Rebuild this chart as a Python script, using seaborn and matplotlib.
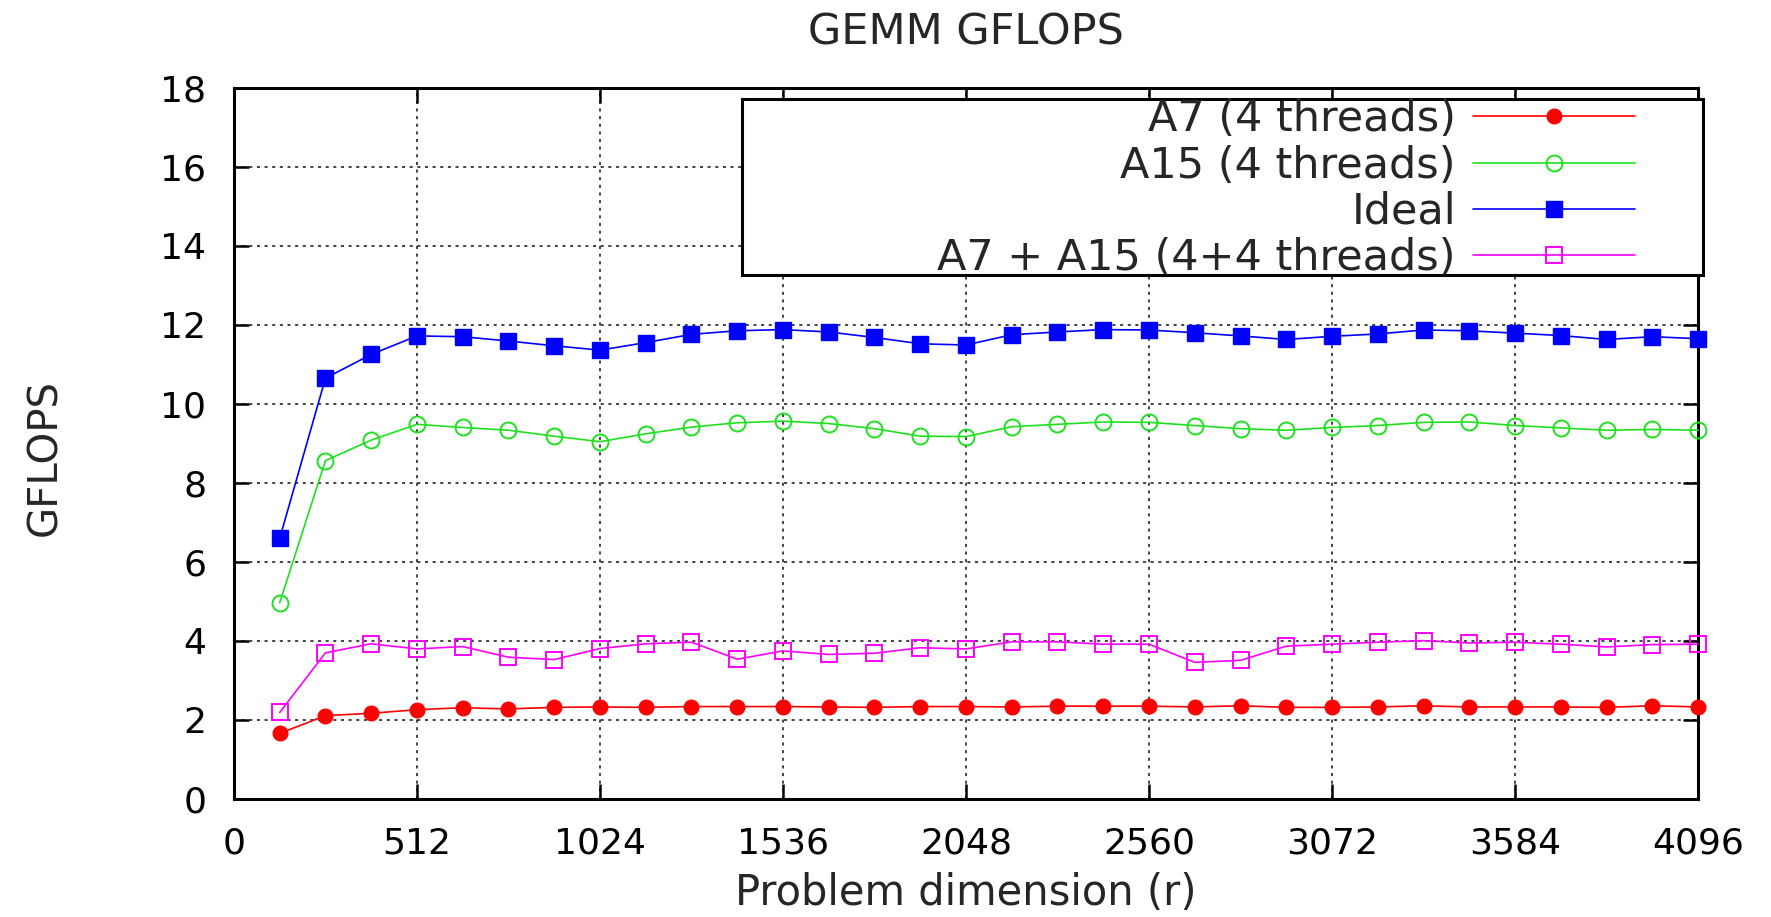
import matplotlib
matplotlib.use("Agg")
import matplotlib.pyplot as plt
from matplotlib.patches import Rectangle
import seaborn as sns

# ---------------- data ----------------
problem_dim = [128, 256, 384, 512, 640, 768, 896, 1024, 1152, 1280, 1408, 1536,
               1664, 1792, 1920, 2048, 2176, 2304, 2432, 2560, 2688, 2816, 2944,
               3072, 3200, 3328, 3456, 3584, 3712, 3840, 3968, 4096]

a7_4threads = [1.65, 2.10, 2.16, 2.25, 2.30, 2.27, 2.31, 2.32, 2.31, 2.33, 2.33, 2.33,
               2.32, 2.31, 2.33, 2.33, 2.32, 2.34, 2.34, 2.34, 2.32, 2.35, 2.31,
               2.31, 2.32, 2.35, 2.32, 2.32, 2.32, 2.31, 2.35, 2.32]

a15_4threads = [4.96, 8.56, 9.08, 9.48, 9.40, 9.33, 9.18, 9.04, 9.24, 9.41, 9.52, 9.56,
                9.50, 9.37, 9.18, 9.17, 9.42, 9.48, 9.54, 9.53, 9.45, 9.37, 9.33,
                9.40, 9.45, 9.53, 9.54, 9.45, 9.39, 9.33, 9.35, 9.33]

ideal = [6.59, 10.65, 11.25, 11.72, 11.70, 11.59, 11.47, 11.36, 11.55, 11.76, 11.85, 11.88,
         11.82, 11.68, 11.52, 11.49, 11.75, 11.82, 11.88, 11.87, 11.80, 11.72, 11.63,
         11.71, 11.77, 11.87, 11.85, 11.79, 11.73, 11.63, 11.70, 11.65]

a7_a15_8threads = [2.18, 3.69, 3.92, 3.79, 3.85, 3.58, 3.52, 3.80, 3.92, 3.96, 3.53, 3.74,
                   3.65, 3.68, 3.82, 3.79, 3.97, 3.97, 3.91, 3.91, 3.45, 3.50, 3.86,
                   3.91, 3.96, 4.00, 3.94, 3.96, 3.91, 3.84, 3.90, 3.91]

series_labels = ["A7 (4 threads)", "A15 (4 threads)", "Ideal", "A7 + A15 (4+4 threads)"]
x_ticks = [0, 512, 1024, 1536, 2048, 2560, 3072, 3584, 4096]
y_ticks = [0, 2, 4, 6, 8, 10, 12, 14, 16, 18]

title_text = "GEMM GFLOPS"
x_label = "Problem dimension (r)"
y_label = "GFLOPS"

# ---------------- style ----------------
sns.set_style("white")
plt.rcParams["font.family"] = ["DejaVu Sans"]

fig = plt.figure(figsize=(17.71, 9.17), dpi=100)
ax = fig.add_axes([0.1321, 0.1292, 0.9588 - 0.1321, 0.904 - 0.1292])

styles = [
    dict(color="#ff0000", marker="o", markersize=10.5, markerfacecolor="#ff0000",
         markeredgecolor="#ff0000", markeredgewidth=1.0),
    dict(color="#1fe01f", marker="o", markersize=11.5, markerfacecolor="none",
         markeredgecolor="#1fe01f", markeredgewidth=1.4),
    dict(color="#0000ff", marker="s", markersize=12, markerfacecolor="#0000ff",
         markeredgecolor="#0000ff", markeredgewidth=1.0),
    dict(color="#ff00ff", marker="s", markersize=12, markerfacecolor="none",
         markeredgecolor="#ff00ff", markeredgewidth=1.4),
]
series = [a7_4threads, a15_4threads, ideal, a7_a15_8threads]

lines = []
for vals, lab, st in zip(series, series_labels, styles):
    sns.lineplot(x=problem_dim, y=vals, ax=ax, label=lab, linewidth=1.2,
                 clip_on=False, zorder=3, errorbar=None, legend=False, **st)
    lines.append(ax.get_lines()[-1])

ax.set_xlim(0, 4096)
ax.set_ylim(0, 18)
ax.set_xticks(x_ticks)
ax.set_yticks(y_ticks)

ax.grid(True, color="#111111", linestyle=(0, (2, 3)), linewidth=1.1)
for sp in ax.spines.values():
    sp.set_color("black")
    sp.set_linewidth(2.2)
    sp.set_visible(True)

ax.tick_params(axis="both", which="major", direction="in", length=11, width=1.8,
               top=True, right=True, bottom=True, left=True,
               labelsize=26, pad=20, colors="black")

ax.set_title(title_text, fontsize=31, pad=31, y=1.0)
ax.set_xlabel(x_label, fontsize=30)
ax.set_ylabel(y_label, fontsize=29)
ax.xaxis.set_label_coords(0.5, -0.104)
ax.yaxis.set_label_coords(-0.115, 0.48)

# legend (gnuplot style: text right-aligned, sample on the right)
frame = Rectangle((0.347, 0.7375), 0.6564, 0.2465, transform=ax.transAxes,
                  facecolor="white", edgecolor="black", linewidth=2.2,
                  clip_on=False, zorder=4.5)
ax.add_patch(frame)
LFS = 31
leg = ax.legend(lines, series_labels, loc="upper right",
                bbox_to_anchor=(0.957, 0.9855), frameon=False, markerfirst=False,
                borderpad=0, borderaxespad=0, handlelength=3.76,
                handletextpad=0.4, labelspacing=0.1, fontsize=LFS)
leg.set_zorder(6)
leg._legend_box._children[-1]._children[0].align = "right"

fig.savefig("out.png", dpi=100)
